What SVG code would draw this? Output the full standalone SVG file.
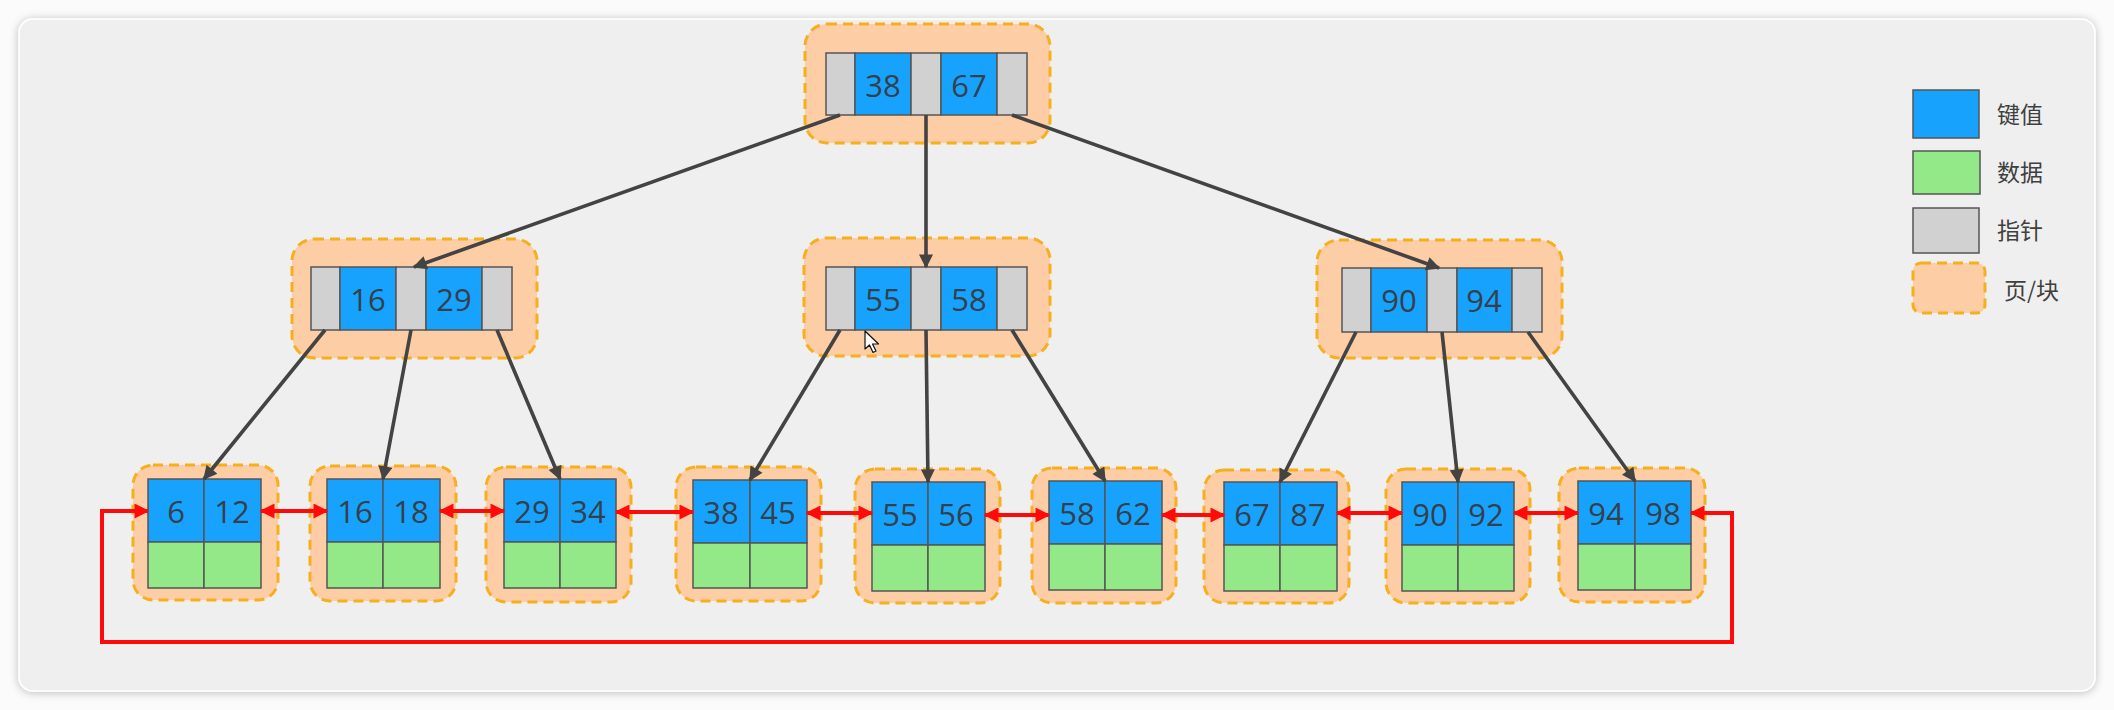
<svg xmlns="http://www.w3.org/2000/svg" width="2114" height="710" viewBox="0 0 2114 710">
<defs>
<filter id="shadow" x="-5%" y="-5%" width="110%" height="110%">
<feGaussianBlur in="SourceAlpha" stdDeviation="5"/>
<feOffset dx="0" dy="1"/>
<feComponentTransfer><feFuncA type="linear" slope="0.25"/></feComponentTransfer>
<feMerge><feMergeNode/><feMergeNode in="SourceGraphic"/></feMerge>
</filter>
<marker id="ah" viewBox="0 0 10 10" refX="9" refY="5" markerWidth="16" markerHeight="14" markerUnits="userSpaceOnUse" orient="auto">
<path d="M0,0 L10,5 L0,10 z" fill="#434343"/>
</marker>
<marker id="rh" viewBox="0 0 10 10" refX="9" refY="5" markerWidth="16" markerHeight="15" markerUnits="userSpaceOnUse" orient="auto-start-reverse">
<path d="M0,0 L10,5 L0,10 z" fill="#ff0a0a"/>
</marker>
<style>
.page{fill:#fdcda6;stroke:#f6b01e;stroke-width:3;stroke-dasharray:10 6}
.key{fill:#17a3fd;stroke:#555;stroke-width:1.5}
.ptr{fill:#d1d1d1;stroke:#555;stroke-width:1.5}
.dat{fill:#93e888;stroke:#555;stroke-width:1.5}
.num{font-family:"Open Sans","Noto Sans",sans-serif;font-size:31px;fill:#34404c;text-anchor:middle;dominant-baseline:central}
.leg{font-family:"Noto Sans CJK SC","Noto Sans",sans-serif;font-size:23px;fill:#404040;dominant-baseline:central}
.tree{stroke:#434343;stroke-width:3.6;fill:none;marker-end:url(#ah)}
.link{stroke:#ff0a0a;stroke-width:4;fill:none;marker-start:url(#rh);marker-end:url(#rh)}
</style>
</defs>
<rect x="0" y="0" width="2114" height="710" fill="#fbfbfb"/>
<rect x="19" y="19" width="2076" height="672" rx="14" fill="#efefef" stroke="#ffffff" stroke-width="1.5" filter="url(#shadow)"/>

<g id="root">
<rect class="page" x="805" y="24" width="245" height="119" rx="22"/>
<rect class="ptr" x="826" y="53" width="29" height="62"/>
<rect class="key" x="855" y="53" width="56" height="62"/>
<rect class="ptr" x="911" y="53" width="30" height="62"/>
<rect class="key" x="941" y="53" width="56" height="62"/>
<rect class="ptr" x="997" y="53" width="30" height="62"/>
<text class="num" x="883" y="85">38</text>
<text class="num" x="969" y="85">67</text>
</g>

<g id="mid-left">
<rect class="page" x="292" y="239" width="245" height="119" rx="22"/>
<rect class="ptr" x="311" y="267" width="29" height="63"/>
<rect class="key" x="340" y="267" width="56" height="63"/>
<rect class="ptr" x="396" y="267" width="30" height="63"/>
<rect class="key" x="426" y="267" width="56" height="63"/>
<rect class="ptr" x="482" y="267" width="30" height="63"/>
<text class="num" x="368" y="299">16</text>
<text class="num" x="454" y="299">29</text>
</g>

<g id="mid-center">
<rect class="page" x="804" y="238" width="246" height="118" rx="22"/>
<rect class="ptr" x="826" y="267" width="29" height="63"/>
<rect class="key" x="855" y="267" width="56" height="63"/>
<rect class="ptr" x="911" y="267" width="30" height="63"/>
<rect class="key" x="941" y="267" width="56" height="63"/>
<rect class="ptr" x="997" y="267" width="30" height="63"/>
<text class="num" x="883" y="299">55</text>
<text class="num" x="969" y="299">58</text>
</g>

<g id="mid-right">
<rect class="page" x="1317" y="240" width="245" height="118" rx="22"/>
<rect class="ptr" x="1342" y="268" width="29" height="64"/>
<rect class="key" x="1371" y="268" width="56" height="64"/>
<rect class="ptr" x="1427" y="268" width="30" height="64"/>
<rect class="key" x="1457" y="268" width="55" height="64"/>
<rect class="ptr" x="1512" y="268" width="30" height="64"/>
<text class="num" x="1399" y="300">90</text>
<text class="num" x="1484" y="300">94</text>
</g>

<g id="leaf-1">
<rect class="page" x="133" y="465" width="145" height="135" rx="20"/>
<rect class="key" x="148" y="479" width="56" height="63"/>
<rect class="key" x="204" y="479" width="57" height="63"/>
<rect class="dat" x="148" y="542" width="56" height="46"/>
<rect class="dat" x="204" y="542" width="57" height="46"/>
<text class="num" x="176" y="511">6</text>
<text class="num" x="232" y="511">12</text>
</g>

<g id="leaf-2">
<rect class="page" x="310" y="466" width="146" height="135" rx="20"/>
<rect class="key" x="327" y="479" width="56" height="63"/>
<rect class="key" x="383" y="479" width="57" height="63"/>
<rect class="dat" x="327" y="542" width="56" height="46"/>
<rect class="dat" x="383" y="542" width="57" height="46"/>
<text class="num" x="355" y="511">16</text>
<text class="num" x="411" y="511">18</text>
</g>

<g id="leaf-3">
<rect class="page" x="486" y="467" width="145" height="135" rx="20"/>
<rect class="key" x="504" y="479" width="56" height="63"/>
<rect class="key" x="560" y="479" width="56" height="63"/>
<rect class="dat" x="504" y="542" width="56" height="46"/>
<rect class="dat" x="560" y="542" width="56" height="46"/>
<text class="num" x="532" y="511">29</text>
<text class="num" x="588" y="511">34</text>
</g>

<g id="leaf-4">
<rect class="page" x="676" y="467" width="145" height="134" rx="20"/>
<rect class="key" x="693" y="480" width="57" height="63"/>
<rect class="key" x="750" y="480" width="57" height="63"/>
<rect class="dat" x="693" y="543" width="57" height="45"/>
<rect class="dat" x="750" y="543" width="57" height="45"/>
<text class="num" x="721" y="512">38</text>
<text class="num" x="778" y="512">45</text>
</g>

<g id="leaf-5">
<rect class="page" x="855" y="469" width="145" height="134" rx="20"/>
<rect class="key" x="872" y="482" width="56" height="63"/>
<rect class="key" x="928" y="482" width="57" height="63"/>
<rect class="dat" x="872" y="545" width="56" height="46"/>
<rect class="dat" x="928" y="545" width="57" height="46"/>
<text class="num" x="900" y="514">55</text>
<text class="num" x="956" y="514">56</text>
</g>

<g id="leaf-6">
<rect class="page" x="1032" y="468" width="144" height="135" rx="20"/>
<rect class="key" x="1049" y="481" width="56" height="63"/>
<rect class="key" x="1105" y="481" width="57" height="63"/>
<rect class="dat" x="1049" y="544" width="56" height="46"/>
<rect class="dat" x="1105" y="544" width="57" height="46"/>
<text class="num" x="1077" y="513">58</text>
<text class="num" x="1133" y="513">62</text>
</g>

<g id="leaf-7">
<rect class="page" x="1204" y="470" width="145" height="133" rx="20"/>
<rect class="key" x="1224" y="482" width="56" height="63"/>
<rect class="key" x="1280" y="482" width="57" height="63"/>
<rect class="dat" x="1224" y="545" width="56" height="46"/>
<rect class="dat" x="1280" y="545" width="57" height="46"/>
<text class="num" x="1252" y="514">67</text>
<text class="num" x="1308" y="514">87</text>
</g>

<g id="leaf-8">
<rect class="page" x="1386" y="469" width="144" height="134" rx="20"/>
<rect class="key" x="1402" y="482" width="56" height="63"/>
<rect class="key" x="1458" y="482" width="56" height="63"/>
<rect class="dat" x="1402" y="545" width="56" height="46"/>
<rect class="dat" x="1458" y="545" width="56" height="46"/>
<text class="num" x="1430" y="514">90</text>
<text class="num" x="1486" y="514">92</text>
</g>

<g id="leaf-9">
<rect class="page" x="1559" y="468" width="146" height="134" rx="20"/>
<rect class="key" x="1578" y="481" width="57" height="63"/>
<rect class="key" x="1635" y="481" width="56" height="63"/>
<rect class="dat" x="1578" y="544" width="57" height="46"/>
<rect class="dat" x="1635" y="544" width="56" height="46"/>
<text class="num" x="1606" y="513">94</text>
<text class="num" x="1663" y="513">98</text>
</g>

<g id="connectors">
<line class="tree" x1="840" y1="115" x2="414" y2="267"/>
<line class="tree" x1="926" y1="115" x2="926" y2="267"/>
<line class="tree" x1="1012" y1="115" x2="1439" y2="268"/>
<line class="tree" x1="325" y1="330" x2="204" y2="479"/>
<line class="tree" x1="411" y1="330" x2="383" y2="479"/>
<line class="tree" x1="497" y1="330" x2="560" y2="479"/>
<line class="tree" x1="840" y1="330" x2="750" y2="480"/>
<line class="tree" x1="926" y1="330" x2="928" y2="482"/>
<line class="tree" x1="1012" y1="330" x2="1105" y2="481"/>
<line class="tree" x1="1356" y1="332" x2="1280" y2="482"/>
<line class="tree" x1="1442" y1="332" x2="1458" y2="482"/>
<line class="tree" x1="1528" y1="332" x2="1635" y2="481"/>
<line class="link" x1="261" y1="511" x2="327" y2="511"/>
<line class="link" x1="440" y1="511" x2="504" y2="511"/>
<line class="link" x1="616" y1="512" x2="693" y2="512"/>
<line class="link" x1="807" y1="513" x2="872" y2="513"/>
<line class="link" x1="985" y1="515" x2="1049" y2="515"/>
<line class="link" x1="1162" y1="515" x2="1224" y2="515"/>
<line class="link" x1="1337" y1="513" x2="1402" y2="513"/>
<line class="link" x1="1514" y1="513" x2="1578" y2="513"/>
<path class="link" d="M148,511 L102,511 L102,642 L1732,642 L1732,513 L1691,513"/>
</g>

<g id="cursor">
<path d="M865,331 L865,349 L869.5,345 L873,352.5 L876,351 L872.5,344 L878.5,344 Z" fill="#fff" stroke="#111" stroke-width="1.2" stroke-linejoin="round"/>
</g>

<g id="legend">
<rect class="key" x="1913" y="90" width="66" height="48"/>
<text class="leg" x="1997" y="113">键值</text>
<rect class="dat" x="1913" y="151" width="67" height="43"/>
<text class="leg" x="1997" y="171">数据</text>
<rect class="ptr" x="1913" y="208" width="66" height="45"/>
<text class="leg" x="1997" y="229">指针</text>
<rect class="page" x="1913" y="263" width="72" height="50" rx="8"/>
<text class="leg" x="2004" y="289">页/块</text>
</g>
</svg>
